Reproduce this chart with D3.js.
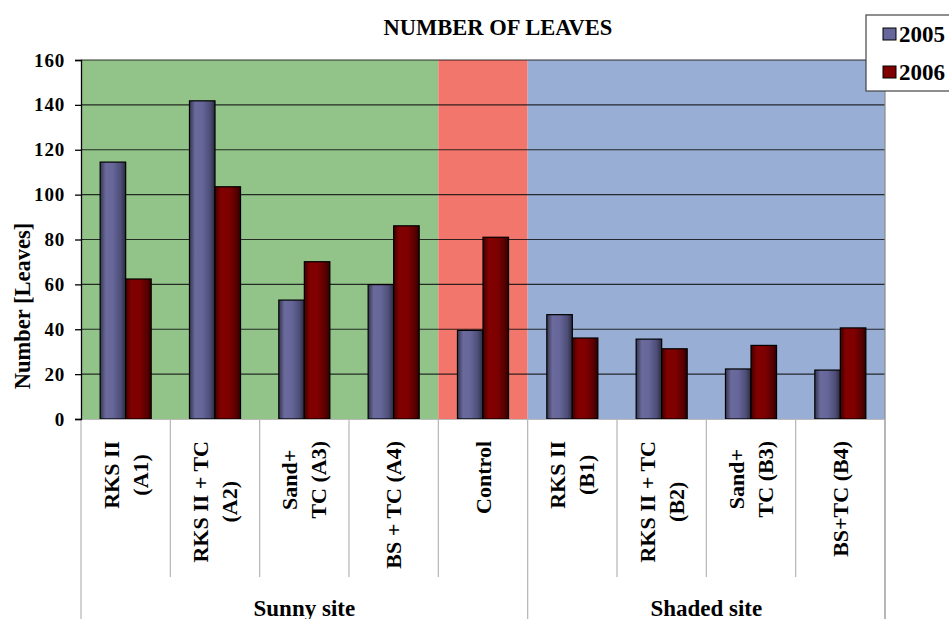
<!DOCTYPE html>
<html>
<head>
<meta charset="utf-8">
<script src="https://cdn.jsdelivr.net/npm/d3@7"></script>
<style>
  html, body { margin: 0; padding: 0; background: #ffffff; }
  svg { display: block; }
  svg text { font-family: 'Liberation Serif', 'DejaVu Serif', serif; font-weight: bold; fill: #000; }
</style>
</head>
<body>
<div id="chart"></div>
<script>
// Treatments (multi-line axis labels) and their site grouping
const categories = [
  ["RKS II", "(A1)"],
  ["RKS II + TC", "(A2)"],
  ["Sand+", "TC (A3)"],
  ["BS + TC (A4)"],
  ["Control"],
  ["RKS II", "(B1)"],
  ["RKS II + TC", "(B2)"],
  ["Sand+", "TC (B3)"],
  ["BS+TC (B4)"]
];
const seriesNames = ["2005", "2006"];
const values2005 = [114.5, 141.8, 53.0, 59.9, 39.5, 46.5, 35.6, 22.3, 21.8];
const values2006 = [62.4, 103.5, 70.1, 86.1, 81.0, 36.1, 31.3, 32.8, 40.6];
const yTicks = [0, 20, 40, 60, 80, 100, 120, 140, 160];
// Background zones: first/last category index of each zone
const zones = [
  { from: 0, to: 3, fill: "#92c48a" },
  { from: 4, to: 4, fill: "#f2766b" },
  { from: 5, to: 8, fill: "#98aed4" }
];
const sites = [
  { name: "Sunny site", from: 0, to: 4 },
  { name: "Shaded site", from: 5, to: 8 }
];

const FONT = "'Liberation Serif', 'DejaVu Serif', serif";
const W = 949, H = 619;
const plot = { left: 81, right: 885, top: 60, bottom: 419 };

const svg = d3.select("#chart").append("svg").attr("width", W).attr("height", H)
  .attr("font-family", FONT).attr("font-weight", "bold");

const defs = svg.append("defs");
function barGradient(id, stops) {
  const g = defs.append("linearGradient").attr("id", id)
    .attr("x1", "0%").attr("x2", "100%").attr("y1", "0%").attr("y2", "0%");
  stops.forEach(([o, c]) => g.append("stop").attr("offset", o).attr("stop-color", c));
}
barGradient("g2005", [["0%", "#35354f"], ["22%", "#6a6a9c"], ["50%", "#66669a"], ["80%", "#4e4e78"], ["100%", "#2a2a40"]]);
barGradient("g2006", [["0%", "#3e0000"], ["22%", "#820000"], ["55%", "#7e0000"], ["82%", "#5a0000"], ["100%", "#300000"]]);

const x = d3.scaleBand().domain(d3.range(categories.length)).range([plot.left, plot.right]).padding(0);
const xs = d3.scaleBand().domain(seriesNames).range([0, x.bandwidth()]).paddingInner(0).paddingOuter(0.75);
const y = d3.scaleLinear().domain([0, 160]).range([plot.bottom, plot.top]);

// zone backgrounds
svg.append("g").selectAll("rect").data(zones).join("rect")
  .attr("x", d => x(d.from))
  .attr("y", plot.top)
  .attr("width", d => x(d.to) + x.bandwidth() - x(d.from))
  .attr("height", plot.bottom - plot.top)
  .attr("fill", d => d.fill);

// horizontal gridlines
svg.append("g").selectAll("line").data(yTicks.slice(1)).join("line")
  .attr("x1", plot.left).attr("x2", plot.right)
  .attr("y1", d => y(d)).attr("y2", d => y(d))
  .attr("stroke", "#111").attr("stroke-opacity", 0.85).attr("stroke-width", 1.2);

// bars
const rows = categories.map((c, i) => ({ i, vals: [values2005[i], values2006[i]] }));
const barG = svg.append("g");
rows.forEach(r => {
  seriesNames.forEach((s, k) => {
    barG.append("rect")
      .attr("x", x(r.i) + xs(s))
      .attr("y", y(r.vals[k]))
      .attr("width", xs.bandwidth())
      .attr("height", y(0) - y(r.vals[k]))
      .attr("fill", `url(#g${s})`)
      .attr("stroke", "#000").attr("stroke-width", 1.2);
  });
});

// right edge of plot
svg.append("line").attr("x1", plot.right).attr("x2", plot.right)
  .attr("y1", plot.top).attr("y2", H).attr("stroke", "#8a8a8a").attr("stroke-width", 1.2);

// category axis: baseline and separators
svg.append("line").attr("x1", plot.left).attr("x2", plot.right)
  .attr("y1", plot.bottom + 0.5).attr("y2", plot.bottom + 0.5).attr("stroke", "#bbbbbb");
const siteEdges = new Set([0, ...sites.map(s => s.to + 1)]);
svg.append("g").selectAll("line").data(d3.range(categories.length + 1)).join("line")
  .attr("x1", i => i === categories.length ? plot.right : x(i))
  .attr("x2", i => i === categories.length ? plot.right : x(i))
  .attr("y1", plot.bottom)
  .attr("y2", i => siteEdges.has(i) ? H : 577)
  .attr("stroke", "#b5b5b5").attr("stroke-width", 1.2);

// y axis
const yAxis = d3.axisLeft(y).tickValues(yTicks).tickSize(6).tickPadding(10);
const ya = svg.append("g").attr("transform", `translate(${plot.left},0)`).call(yAxis)
  .attr("font-family", FONT).attr("font-size", 19);
ya.select(".domain").attr("stroke", "#000").attr("stroke-width", 1.3);
ya.selectAll(".tick line").attr("stroke", "#000").attr("stroke-width", 1.3);
ya.selectAll(".tick text")
  .style("font-family", FONT)
  .style("font-weight", "bold").style("font-size", "19px")
  .attr("letter-spacing", "0.8px").attr("fill", "#000");

// rotated category labels
const labTop = 441;
const lineGap = 29;
categories.forEach((lines, i) => {
  const cx = x(i) + x.bandwidth() / 2;
  const g = svg.append("g");
  const texts = lines.map(t => g.append("text").text(t)
    .attr("text-anchor", "middle").attr("dominant-baseline", "central")
    .style("font-family", FONT).style("font-size", "22px"));
  const maxW = d3.max(texts, t => t.node().getComputedTextLength());
  texts.forEach((t, k) => {
    const off = (k - (lines.length - 1) / 2) * lineGap;
    t.attr("transform", `translate(${cx + off},${labTop + maxW / 2}) rotate(-90)`);
  });
});

// site labels
svg.append("g").selectAll("text").data(sites).join("text")
  .attr("x", d => (x(d.from) + x(d.to) + x.bandwidth()) / 2)
  .attr("y", 616)
  .attr("text-anchor", "middle")
  .style("font-family", FONT).style("font-size", "23px")
  .text(d => d.name);

// title
svg.append("text").attr("x", 498).attr("y", 35).attr("text-anchor", "middle")
  .style("font-family", FONT).style("font-size", "22.5px").text("NUMBER OF LEAVES");

// y axis title
svg.append("text").attr("transform", `translate(22,306) rotate(-90)`)
  .attr("text-anchor", "middle").attr("dominant-baseline", "central")
  .style("font-family", FONT).style("font-size", "22.5px").text("Number [Leaves]");

// legend
const leg = svg.append("g");
leg.append("rect").attr("x", 866).attr("y", 15).attr("width", 120).attr("height", 76)
  .attr("fill", "#fff").attr("stroke", "#444").attr("stroke-width", 1.2);
const legColors = { "2005": "#66669a", "2006": "#800000" };
seriesNames.forEach((s, k) => {
  const cy = 34 + k * 38;
  leg.append("rect").attr("x", 883).attr("y", cy - 6).attr("width", 13).attr("height", 12)
    .attr("fill", legColors[s]).attr("stroke", "#000").attr("stroke-width", 1);
  leg.append("text").attr("x", 899).attr("y", cy).attr("dominant-baseline", "central")
    .style("font-family", FONT).style("font-size", "23px").text(s);
});
</script>
</body>
</html>
